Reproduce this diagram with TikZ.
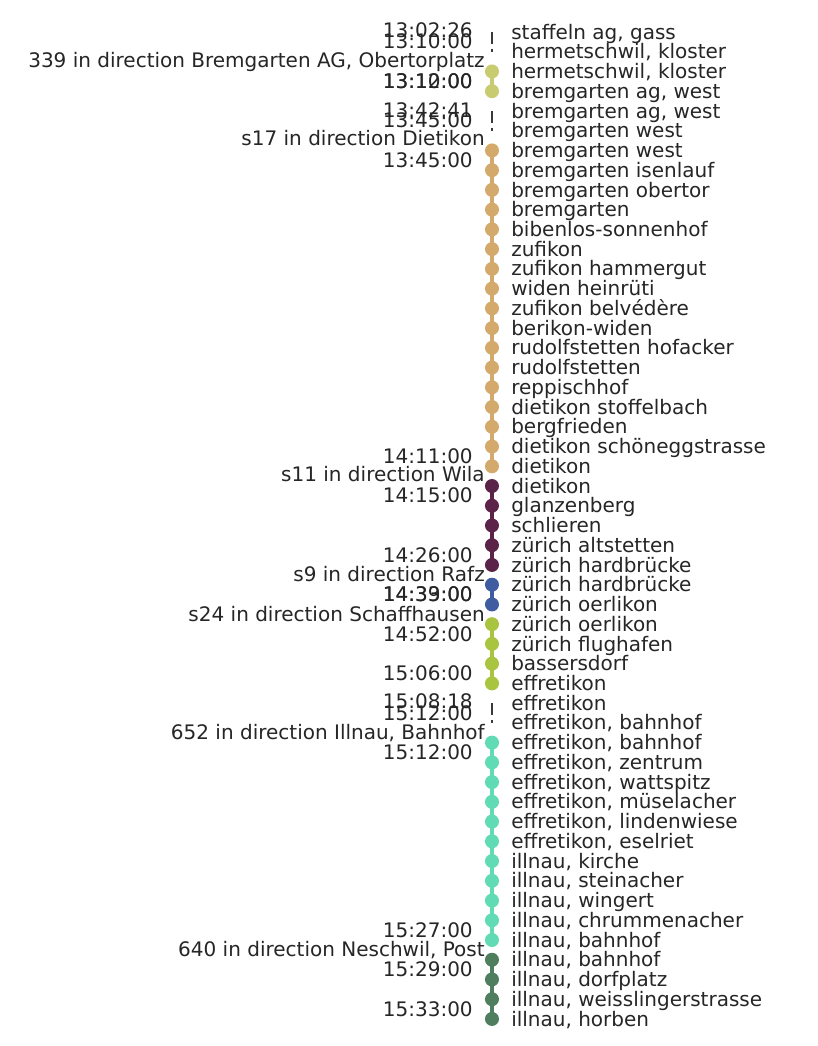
\documentclass[tikz,border=0pt]{standalone}
\usepackage{fontspec}
\setmainfont{DejaVu Sans}
\usetikzlibrary{positioning}
\usepackage{xcolor}
\definecolor{inkgrey}{HTML}{262626}
\definecolor{walkgrey}{HTML}{3A3A3A}
\definecolor{bus339}{HTML}{C8CB6F}
\definecolor{sbahn17}{HTML}{D3AA6C}
\definecolor{sbahn11}{HTML}{5B2348}
\definecolor{sbahn9}{HTML}{405CA0}
\definecolor{sbahn24}{HTML}{A9C540}
\definecolor{bus652}{HTML}{60DBB3}
\definecolor{bus640}{HTML}{4F7E5F}
\tikzset{
  halt/.style={circle,inner sep=0pt,minimum size=10.5pt},
  stopname/.style={anchor=mid west,inner sep=0pt,text=inkgrey,yshift=-2.6pt},
  clock/.style={anchor=mid east,inner sep=0pt,text=inkgrey,yshift=-2.6pt},
  linename/.style={anchor=mid east,inner sep=0pt,text=inkgrey,yshift=-2.6pt},
  ride/.style={line width=2.4pt},
  walkleg/.style={walkgrey,line width=2pt,dash pattern=on 9pt off 3.5pt},
}

\begin{document}
\begin{tikzpicture}[x=0.75pt,y=-14.805pt,font=\fontsize{15}{18}\selectfont]
\useasboundingbox[fill=white] (0,-0.621) rectangle (818,52.37);
% stops, top to bottom
\foreach \n/\nm in {1/{staffeln ag, gass},2/{hermetschwil, kloster},3/{hermetschwil, kloster},
  4/{bremgarten ag, west},5/{bremgarten ag, west},6/{bremgarten west},7/{bremgarten west},
  8/{bremgarten isenlauf},9/{bremgarten obertor},10/{bremgarten},11/{bibenlos-sonnenhof},
  12/{zufikon},13/{zufikon hammergut},14/{widen heinrüti},15/{zufikon belvédère},
  16/{berikon-widen},17/{rudolfstetten hofacker},18/{rudolfstetten},19/{reppischhof},
  20/{dietikon stoffelbach},21/{bergfrieden},22/{dietikon schöneggstrasse},23/{dietikon},
  24/{dietikon},25/{glanzenberg},26/{schlieren},27/{zürich altstetten},28/{zürich hardbrücke},
  29/{zürich hardbrücke},30/{zürich oerlikon},31/{zürich oerlikon},32/{zürich flughafen},
  33/{bassersdorf},34/{effretikon},35/{effretikon},36/{effretikon, bahnhof},
  37/{effretikon, bahnhof},38/{effretikon, zentrum},39/{effretikon, wattspitz},
  40/{effretikon, müselacher},41/{effretikon, lindenwiese},42/{effretikon, eselriet},
  43/{illnau, kirche},44/{illnau, steinacher},45/{illnau, wingert},46/{illnau, chrummenacher},
  47/{illnau, bahnhof},48/{illnau, bahnhof},49/{illnau, dorfplatz},
  50/{illnau, weisslingerstrasse},51/{illnau, horben}}
  {\coordinate (r\n) at (492,\n);
   \node[stopname] (name\n) at (511,\n) {\nm};}

% walking
\draw[walkleg] (r1) -- (r2);
\draw[walkleg] (r5) -- (r6);
\draw[walkleg] (r35) -- (r36);

% rides
\draw[ride,bus339] (r3) -- (r4);
\foreach \n in {3,4} \node[halt,fill=bus339] (h\n) at (r\n) {};
\draw[ride,sbahn17] (r7) -- (r23);
\foreach \n in {7,...,23} \node[halt,fill=sbahn17] (h\n) at (r\n) {};
\draw[ride,sbahn11] (r24) -- (r28);
\foreach \n in {24,...,28} \node[halt,fill=sbahn11] (h\n) at (r\n) {};
\draw[ride,sbahn9] (r29) -- (r30);
\foreach \n in {29,30} \node[halt,fill=sbahn9] (h\n) at (r\n) {};
\draw[ride,sbahn24] (r31) -- (r34);
\foreach \n in {31,...,34} \node[halt,fill=sbahn24] (h\n) at (r\n) {};
\draw[ride,bus652] (r37) -- (r47);
\foreach \n in {37,...,47} \node[halt,fill=bus652] (h\n) at (r\n) {};
\draw[ride,bus640] (r48) -- (r51);
\foreach \n in {48,...,51} \node[halt,fill=bus640] (h\n) at (r\n) {};

% line names
\node[linename] (line339) at (485,2.42) {339 in direction Bremgarten AG, Obertorplatz};
\node[linename] (line17) at (485,6.4) {s17 in direction Dietikon};
\node[linename] (line11) at (485,23.4) {s11 in direction Wila};
\node[linename] (line9) at (485,28.46) {s9 in direction Rafz};
\node[linename] (line24) at (485,30.48) {s24 in direction Schaffhausen};
\node[linename] (line652) at (485,36.46) {652 in direction Illnau, Bahnhof};
\node[linename] (line640) at (485,47.5) {640 in direction Neschwil, Post};

% times
\foreach \k/\yy/\tm in {1/0.92/13:02:26,2/1.5/13:10:00,3/3.5/13:10:00,4/3.5/13:12:00,
  5/4.95/13:42:41,6/5.46/13:45:00,7/7.5/13:45:00,8/22.5/14:11:00,9/24.5/14:15:00,
  10/27.5/14:26:00,11/29.5/14:33:00,12/29.5/14:39:00,13/31.5/14:52:00,14/33.5/15:06:00,
  15/34.89/15:08:18,16/35.5/15:12:00,17/37.5/15:12:00,18/46.5/15:27:00,
  19/48.5/15:29:00,20/50.5/15:33:00}
  \node[clock] (t\k) at (473,\yy) {\tm};
\end{tikzpicture}
\end{document}
